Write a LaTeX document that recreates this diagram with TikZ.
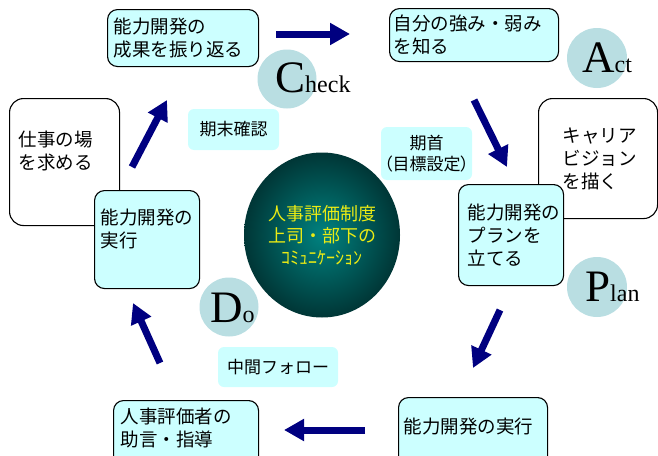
\documentclass[tikz,border=0pt]{standalone}
\usepackage{fontspec}
\setmainfont{Liberation Serif}
\newfontfamily\jpfont{Noto Sans CJK JP}
\newfontfamily\jpprop[RawFeature=+palt]{Noto Sans CJK JP}
\usepackage{tikz}
\usetikzlibrary{arrows.meta,shapes.geometric}
\definecolor{boxcyan}{RGB}{204,255,255}
\definecolor{ringblue}{RGB}{185,222,226}
\definecolor{arrownavy}{RGB}{0,0,128}
\definecolor{coreteal}{RGB}{0,130,128}
\definecolor{coredark}{RGB}{0,54,54}
\definecolor{coretext}{RGB}{235,235,20}
\tikzstyle{stage}=[draw=black,line width=1.1pt,rounded corners=10pt,fill=boxcyan,anchor=north west,align=left,inner ysep=0pt,font=\jpfont\fontsize{18.5}{23}\selectfont]
\tikzstyle{wish}=[stage,fill=white,rounded corners=14pt]
\tikzstyle{phase}=[fill=boxcyan,rounded corners=6pt,align=center,inner sep=0pt,font=\jpfont\fontsize{17}{21}\selectfont]
\tikzstyle{ring}=[circle,fill=ringblue,minimum size=59pt,inner sep=0pt]
\tikzstyle{word}=[anchor=base west,inner sep=0pt]
\tikzstyle{flow}=[draw=arrownavy,line width=7pt,-{Triangle[length=20pt,width=21pt]}]
\newcommand\pdca[2]{{\fontsize{45}{45}\selectfont #1}{\fontsize{24}{24}\selectfont #2}}

\begin{document}
\begin{tikzpicture}[x=1pt,y=-1pt]
        \useasboundingbox (0,0) rectangle (658,455);
        % PDCA rings
        \node[ring] (checkring) at (287,79) {};
        \node[ring,minimum size=60pt] (actring) at (597,58) {};
        \node[ring,minimum size=60pt] (planring) at (597,287) {};
        \node[ring] (doring) at (229,307) {};
        % centre
        \node[ellipse,minimum width=156pt,minimum height=165pt,inner sep=0pt,shading=radial,inner color=coreteal,outer color=coredark,text=coretext,align=center,font=\jpfont\fontsize{18}{22}\selectfont] (core) at (322,235) {人事評価制度\\上司・部下の\\ｺﾐｭﾆｹｰｼｮﾝ};
        % phase labels
        \node[phase,minimum width=91pt,minimum height=41pt] (endcheck) at (233.5,129.5) {期末確認};
        \node[phase,minimum width=91pt,minimum height=53pt] (startgoal) at (426.5,153.5) {期首\\{\jpprop （目標設定）}};
        \node[phase,minimum width=120pt,minimum height=40pt] (midfollow) at (278,367) {中間フォロー};
        % boxes
        \node[wish,text width=92pt,inner xsep=9pt,minimum height=127pt] (workplace) at (9,98) {仕事の場\\を求める\\~};
        \node[wish,text width=71pt,inner xsep=24pt,minimum height=120pt] (vision) at (538,98) {キャリア\\ビジョン\\を描く};
        \node[stage,text width=139pt,inner xsep=6pt,minimum height=57pt] (review) at (107,9) {能力開発の\\成果を振り返る};
        \node[stage,text width=161pt,inner xsep=4pt,minimum height=53pt] (strength) at (389,8) {自分の強み・弱み\\を知る};
        \node[stage,text width=93pt,inner xsep=6pt,minimum height=98pt] (practice) at (94,190) {能力開発の\\実行\\~};
        \node[stage,text width=87pt,inner xsep=9pt,minimum height=101pt] (plan) at (458,184) {能力開発の\\プランを\\立てる};
        \node[stage,text width=131pt,inner xsep=7pt,minimum height=76pt] (advice) at (113,400) {人事評価者の\\助言・指導\\~};
        \node[stage,text width=139pt,inner xsep=5pt,minimum height=79pt] (execute) at (398,397) {能力開発の実行\\~};
        % cycle arrows
        \coordinate (a1s) at (276,34);  \coordinate (a1e) at (350,34);
        \coordinate (a2s) at (474,100); \coordinate (a2e) at (507,167);
        \coordinate (a3s) at (500,310); \coordinate (a3e) at (473,368);
        \coordinate (a4s) at (365,430); \coordinate (a4e) at (284,430);
        \coordinate (a5s) at (160,363); \coordinate (a5e) at (133,303);
        \coordinate (a6s) at (132,167); \coordinate (a6e) at (167,100);
        \draw[flow] (a1s) -- (a1e);
        \draw[flow] (a2s) -- (a2e);
        \draw[flow] (a3s) -- (a3e);
        \draw[flow] (a4s) -- (a4e);
        \draw[flow] (a5s) -- (a5e);
        \draw[flow] (a6s) -- (a6e);
        % PDCA words
        \node[word] (checkword) at (275,92) {\pdca{C}{heck}};
        \node[word] (actword) at (582,72) {\pdca{A}{ct}};
        \node[word] (planword) at (585,301) {\pdca{P}{lan}};
        \node[word] (doword) at (210,322) {\pdca{D}{o}};
      \end{tikzpicture}
\end{document}
